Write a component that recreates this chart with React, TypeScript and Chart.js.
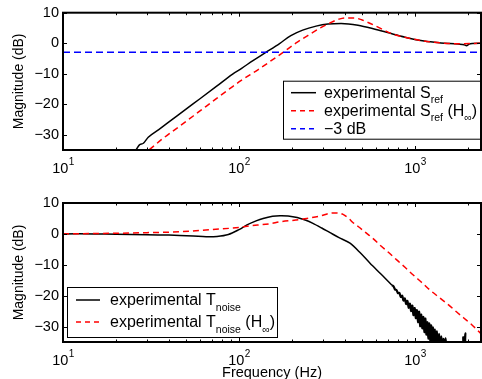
import { useEffect, useRef } from 'react';
import { Chart, registerables } from 'chart.js';

Chart.register(...registerables);

const FONT = '"Liberation Sans", Arial, Helvetica, sans-serif';

// ---- axes ----
const freqMin = 10;
const freqMax = 2370;
const magMin = -35;
const magMax = 10;
const magTicks = [-30, -20, -10, 0, 10];
const freqMajorTicks = [10, 100, 1000];
const freqTickExponents = ['1', '2', '3'];
const freqMinorTicks = [20, 30, 40, 50, 60, 70, 80, 90, 200, 300, 400, 500, 600, 700, 800, 900, 2000];

// ---- top plot: S_ref ----
const sRefFreq = [24, 26, 27.1, 28.6, 30.5, 35, 40, 50, 60, 75, 92, 103, 120, 142, 170, 197, 230, 274, 320, 380, 474, 600, 731, 900, 1125, 1400, 1754, 1900, 1960, 2030, 2110, 2370];
const sRefMag = [-38, -35, -33.4, -32.8, -30.8, -28.3, -25.8, -21.6, -18.2, -14, -10.1, -8.3, -5.7, -3, -0.1, 2.5, 4.3, 5.6, 6.3, 6.5, 5.9, 4.5, 3.2, 1.8, 0.7, 0.1, -0.3, -0.5, -0.8, -0.3, -0.1, 0];

const sRefHinfFreq = [28, 30.8, 37, 46, 60, 75, 92, 103, 128, 150, 178, 210, 247, 290, 333, 370, 400, 450, 500, 541, 620, 731, 900, 1125, 1400, 1754, 2370];
const sRefHinfMag = [-37, -35, -31.2, -27.2, -22.2, -18, -14.2, -12.2, -8.7, -6, -3, 0, 2.6, 5.0, 6.8, 7.9, 8.3, 8.3, 7.6, 6.8, 5.2, 3.2, 1.8, 0.7, 0.1, -0.2, 0];

const minus3Freq = [10, 2370];
const minus3Mag = [-3, -3];

// ---- bottom plot: T_noise ----
const tNoiseFreq = [
  10, 15, 20, 30, 40, 46, 55, 65, 75, 87, 100, 111, 125, 137, 155, 171, 190, 214, 240, 263, 295, 329, 370, 427, 490, 555, 640, 721,
  740, 755, 770, 785, 800, 815, 830, 845, 860, 875, 890, 905, 920, 935, 950, 965, 980, 995, 1010, 1025, 1040, 1055, 1070, 1085,
  1100, 1115, 1130, 1145, 1160, 1175, 1190, 1205, 1220, 1235, 1250, 1265, 1280, 1295, 1310, 1330, 1350, 1370, 1390, 1410, 1430,
  1450, 1470, 1490, 1510, 1540, 1570, 1850, 1880, 1905, 1930, 1960, 2370,
];
const tNoiseMag = [
  0, 0, -0.1, -0.3, -0.4, -0.5, -0.7, -0.95, -0.85, -0.2, 1.4, 2.9, 4.2, 5.0, 5.7, 5.9, 5.8, 5.3, 4.4, 3.4, 1.9, 0.4, -1.2, -3, -6.2, -9.5, -13, -16,
  -16.6, -17.0, -18.0, -18.2, -19.2, -19.1, -20.4, -20.0, -21.6, -20.9, -22.7, -21.7, -23.9, -22.6, -25.0, -23.2, -26.3, -24.0, -27.3, -24.7, -28.6, -25.2, -29.9, -26.1,
  -30.6, -26.9, -31.8, -27.4, -32.6, -28.6, -33.9, -29.0, -34.6, -29.6, -35.5, -30.3, -36, -31.0, -36.5, -31.6, -37, -32.4, -37, -33.2, -37,
  -34.0, -37, -33.8, -37, -35.6, -37, -37, -33.4, -37, -32.2, -37, -37,
];

const tNoiseHinfFreq = [10, 20, 30, 46, 70, 100, 111, 150, 171, 210, 243, 290, 329, 360, 390, 420, 445, 475, 520, 580, 631, 700, 787, 880, 977, 1100, 1216, 1380, 1550, 1750, 1900, 2100, 2370];
const tNoiseHinfMag = [0, 0.2, 0.4, 0.7, 1.4, 2.1, 2.5, 3.3, 3.9, 4.5, 5.0, 5.8, 6.7, 6.8, 6.3, 5.0, 3.6, 2.4, 0.6, -1.6, -3.6, -5.8, -8.4, -10.9, -13.3, -15.9, -18.2, -20.7, -23, -25.6, -27.3, -29.4, -32.3];

type Part = { t: string; sub?: boolean };
type LegendItem = { color: string; dash: number[]; parts: Part[] };
type LegendSpec = {
  anchor: 'topRight' | 'bottomLeft';
  dx: number; dy: number; w: number; h: number;
  lineX0: number; lineX1: number; textX: number; rowY: number[]; subShift: number;
  items: LegendItem[];
};

const pts = (f: number[], m: number[]) => f.map((x, i) => ({ x, y: m[i] }));
const fmtTick = (v: number) => (v < 0 ? '\u2212' + Math.abs(v) : String(v));

function makeFrame(legend: LegendSpec) {
  return {
    id: 'frame',
    afterDatasetsDraw(chart: any) {
      const { ctx, chartArea: a, scales } = chart;
      const xs = scales.x;
      const ys = scales.y;
      ctx.save();
      ctx.strokeStyle = '#000';
      ctx.lineWidth = 1;
      ctx.setLineDash([]);
      ctx.beginPath();
      for (const v of freqMajorTicks) {
        const px = Math.round(xs.getPixelForValue(v)) + 0.5;
        ctx.moveTo(px, a.top); ctx.lineTo(px, a.top + 4);
        ctx.moveTo(px, a.bottom); ctx.lineTo(px, a.bottom - 4);
      }
      for (const v of freqMinorTicks) {
        const px = Math.round(xs.getPixelForValue(v)) + 0.5;
        ctx.moveTo(px, a.top); ctx.lineTo(px, a.top + 2.5);
        ctx.moveTo(px, a.bottom); ctx.lineTo(px, a.bottom - 2.5);
      }
      for (const v of magTicks) {
        const py = Math.round(ys.getPixelForValue(v)) + 0.5;
        ctx.moveTo(a.left, py); ctx.lineTo(a.left + 4, py);
        ctx.moveTo(a.right, py); ctx.lineTo(a.right - 4, py);
      }
      ctx.stroke();
      ctx.lineWidth = 2;
      ctx.strokeRect(a.left, a.top, a.right - a.left, a.bottom - a.top);

      // x tick labels 10^n
      ctx.fillStyle = '#000';
      ctx.textBaseline = 'alphabetic';
      ctx.textAlign = 'left';
      freqMajorTicks.forEach((v, i) => {
        const px = xs.getPixelForValue(v);
        ctx.font = `14.5px ${FONT}`;
        const w1 = ctx.measureText('10').width;
        ctx.font = `10px ${FONT}`;
        const w2 = ctx.measureText(freqTickExponents[i]).width;
        const x0 = px - (w1 + w2) / 2;
        ctx.font = `14.5px ${FONT}`;
        ctx.fillText('10', x0, a.bottom + 23);
        ctx.font = `10px ${FONT}`;
        ctx.fillText(freqTickExponents[i], x0 + w1 + 0.5, a.bottom + 15);
      });

      // legend
      const bx = legend.anchor === 'topRight' ? a.right - legend.dx : a.left + legend.dx;
      const by = a.top + legend.dy;
      ctx.fillStyle = '#fff';
      ctx.fillRect(bx, by, legend.w, legend.h);
      ctx.lineWidth = 1;
      ctx.strokeStyle = '#000';
      ctx.strokeRect(bx + 0.5, by + 0.5, legend.w, legend.h);
      legend.items.forEach((it, i) => {
        const ry = by + legend.rowY[i];
        ctx.strokeStyle = it.color;
        ctx.lineWidth = 1.5;
        ctx.setLineDash(it.dash);
        ctx.beginPath();
        ctx.moveTo(bx + legend.lineX0, ry);
        ctx.lineTo(bx + legend.lineX1, ry);
        ctx.stroke();
        ctx.setLineDash([]);
        ctx.fillStyle = '#000';
        let cx = bx + legend.textX;
        for (const p of it.parts) {
          ctx.font = p.sub ? `10.5px ${FONT}` : `16px ${FONT}`;
          ctx.fillText(p.t, cx, p.sub ? ry + 5 + legend.subShift : ry + 5);
          cx += ctx.measureText(p.t).width;
        }
      });
      ctx.restore();
    },
  };
}

type PlotProps = {
  top: number;
  height: number;
  padTop: number;
  xAxisH: number;
  datasets: any[];
  legend: LegendSpec;
  xTitle?: string;
};

function MagPlot({ top, height, padTop, xAxisH, datasets, legend, xTitle }: PlotProps) {
  const ref = useRef<HTMLCanvasElement>(null);
  useEffect(() => {
    const chart = new Chart(ref.current as HTMLCanvasElement, {
      type: 'line',
      data: { datasets },
      options: {
        responsive: false,
        animation: false,
        devicePixelRatio: 1,
        layout: { padding: { left: 0, right: 1, top: padTop, bottom: 0 } },
        plugins: { legend: { display: false }, tooltip: { enabled: false } },
        elements: { point: { radius: 0 } },
        scales: {
          x: {
            type: 'logarithmic',
            min: freqMin,
            max: freqMax,
            grid: { display: false, drawTicks: false },
            border: { display: false },
            ticks: { display: false },
            title: xTitle
              ? { display: true, text: xTitle, color: '#000', font: { family: FONT, size: 14.5 }, padding: { top: 0, bottom: 8.8 } }
              : { display: false },
            afterFit: (s: any) => { s.height = xAxisH; },
          },
          y: {
            type: 'linear',
            min: magMin,
            max: magMax,
            afterBuildTicks: (s: any) => { s.ticks = magTicks.map((v) => ({ value: v })); },
            grid: { display: false, drawTicks: false },
            border: { display: false },
            ticks: { color: '#000', font: { family: FONT, size: 14.5 }, padding: 4, callback: (v: any) => fmtTick(Number(v)) },
            title: { display: true, text: 'Magnitude (dB)', color: '#000', font: { family: FONT, size: 14 }, padding: { top: 11, bottom: 0 } },
            afterFit: (s: any) => { s.width = 63; },
          },
        },
      } as any,
      plugins: [makeFrame(legend)],
    });
    return () => chart.destroy();
  }, []);
  return (
    <canvas
      ref={ref}
      width={482}
      height={height}
      style={{ position: 'absolute', left: 0, top, width: 482, height, display: 'block' }}
    />
  );
}

const line = (data: any[], color: string, dash: number[]) => ({
  data,
  borderColor: color,
  borderWidth: 1.5,
  borderDash: dash,
  pointRadius: 0,
  fill: false,
  cubicInterpolationMode: 'monotone',
});

export default function App() {
  const topDatasets = [
    line(pts(minus3Freq, minus3Mag), '#0000ff', [7, 4]),
    line(pts(sRefHinfFreq, sRefHinfMag), '#ff0000', [6, 4]),
    line(pts(sRefFreq, sRefMag), '#000000', []),
  ];
  const bottomDatasets = [
    line(pts(tNoiseHinfFreq, tNoiseHinfMag), '#ff0000', [6, 4]),
    {
      ...line(pts(tNoiseFreq, tNoiseMag), '#000000', []),
      cubicInterpolationMode: 'default',
      tension: 0.3,
      segment: { borderWidth: (c: any) => (c.p0.parsed.x >= 740 ? 2.2 : 1.5) },
    },
  ];
  const topLegend: LegendSpec = {
    anchor: 'topRight', dx: 198, dy: 68, w: 197, h: 58,
    lineX0: 8, lineX1: 33, textX: 41, rowY: [12, 30, 48], subShift: 5,
    items: [
      { color: '#000', dash: [], parts: [{ t: 'experimental S' }, { t: 'ref', sub: true }] },
      { color: '#f00', dash: [5, 4], parts: [{ t: 'experimental S' }, { t: 'ref', sub: true }, { t: ' (H' }, { t: '\u221e', sub: true }, { t: ')' }] },
      { color: '#00f', dash: [5, 4], parts: [{ t: '\u22123 dB' }] },
    ],
  };
  const bottomLegend: LegendSpec = {
    anchor: 'bottomLeft', dx: 4, dy: 84, w: 210, h: 50,
    lineX0: 9, lineX1: 33, textX: 43, rowY: [13, 35], subShift: 5.5,
    items: [
      { color: '#000', dash: [], parts: [{ t: 'experimental T' }, { t: 'noise', sub: true }] },
      { color: '#f00', dash: [5, 4], parts: [{ t: 'experimental T' }, { t: 'noise', sub: true }, { t: ' (H' }, { t: '\u221e', sub: true }, { t: ')' }] },
    ],
  };
  return (
    <div style={{ position: 'fixed', left: 0, top: 0, width: 482, height: 379, overflow: 'hidden', background: '#fff' }}>
      <MagPlot top={0} height={190} padTop={10} xAxisH={40} datasets={topDatasets} legend={topLegend} />
      <MagPlot top={190} height={200} padTop={13} xAxisH={48} datasets={bottomDatasets} legend={bottomLegend} xTitle="Frequency (Hz)" />
    </div>
  );
}
